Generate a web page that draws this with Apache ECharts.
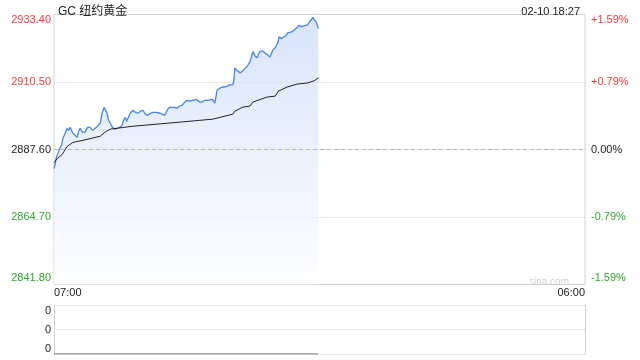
<!DOCTYPE html>
<html>
<head>
<meta charset="utf-8">
<script src="https://cdn.jsdelivr.net/npm/echarts@6/dist/echarts.min.js"></script>
<style>html,body{margin:0;padding:0;background:#fff;}#c{width:640px;height:360px;}</style>
</head>
<body>
<div id="c"></div>
<script>
// minutes after 07:00
const minutes = [0,3,6,10,16,20,23,28,34,38,42,46,49,55,60,64,68,74,81,87,94,100,107,113,120,125,130,133,138,142,146,150,153,158,164,170,177,181,185,189,192,198,205,212,218,225,231,238,244,250,257,265,276,282,288,295,301,310,320,326,333,340,346,354,361,370,379,385,392,400,405,412,418,421,424,428,431,438,444,450,457,462,465,467,470,474,478,484,489,493,496,503,509,513,517,522,528,532,535,541,548,555,561,565,569,575,580,583,585,590,595,602,608,613,619,625,632,636,639,643,647,654,660,663,665,669,673,678,682,684,687];
const prices = [2881.1,2882.5,2884.9,2886.2,2888.3,2889.0,2891.4,2892.8,2894.8,2894.1,2895.1,2894.5,2893.1,2892.4,2891.7,2893.8,2894.8,2893.5,2893.5,2895.1,2895.1,2894.1,2894.8,2895.5,2896.5,2899.9,2901.9,2901.2,2899.9,2897.5,2896.5,2895.5,2895.1,2894.5,2894.8,2895.1,2895.8,2897.5,2898.5,2897.2,2897.5,2899.9,2900.9,2900.2,2899.9,2900.6,2900.9,2899.5,2899.2,2899.9,2900.2,2900.2,2899.9,2899.5,2899.2,2901.2,2901.9,2901.9,2901.6,2902.3,2902.6,2903.7,2904.3,2904.0,2904.3,2904.6,2903.7,2903.7,2904.3,2904.3,2904.3,2904.6,2903.3,2903.0,2907.8,2908.4,2908.4,2908.8,2908.8,2909.1,2909.5,2909.8,2909.5,2910.5,2915.3,2914.6,2914.6,2913.6,2913.9,2914.6,2914.6,2916.0,2917.3,2919.0,2920.8,2919.4,2918.7,2920.1,2920.8,2921.1,2920.4,2919.7,2919.0,2920.1,2921.4,2922.1,2922.5,2924.2,2925.9,2925.2,2924.9,2926.2,2927.2,2926.6,2927.6,2928.2,2929.0,2929.7,2930.0,2929.3,2929.0,2929.7,2930.0,2930.7,2931.0,2931.7,2932.4,2931.4,2930.7,2930.7,2928.6];
const avgMinutes = [0,8,21,34,49,75,120,133,146,205,294,379,413,465,470,491,509,517,554,575,583,606,632,660,676,687];
const avgPrices = [2883.1,2884.5,2885.9,2888.6,2890.0,2890.7,2892.1,2893.5,2894.5,2895.5,2896.5,2897.5,2897.9,2899.6,2900.6,2902.0,2902.3,2903.7,2905.4,2905.7,2907.4,2908.8,2909.8,2910.2,2910.9,2911.9];
const volMinutes = [0, 687];
const volumes = [0, 0];
const prevClose = 2887.6;
const yTicks = [2841.8, 2864.7, 2887.6, 2910.5, 2933.4];
const xTickLabels = ['07:00', '06:00'];
const sessionMinutes = 1380;
const titleText = 'GC 纽约黄金';
const timeText = '02-10 18:27';

const RED = '#f23a3a', GREEN = '#2fa52f', BLACK = '#222';
const yInterval = +(yTicks[1] - yTicks[0]).toFixed(2);
const eq = (a, b) => Math.abs(a - b) < 1e-6;

function edgeKey(v, base) {
  if (eq(v, yTicks[yTicks.length - 1])) return base + 't';
  if (eq(v, yTicks[0])) return base + 'b';
  return base;
}
function colKey(v) {
  if (eq(v, prevClose)) return 'k';
  return v > prevClose ? 'r' : 'g';
}
const richSet = {};
[['r', RED], ['g', GREEN], ['k', BLACK]].forEach(([k, c]) => {
  richSet[k] = { color: c, fontSize: 11, fontFamily: 'Liberation Sans, Arial, sans-serif' };
  richSet[k + 't'] = { color: c, fontSize: 11, fontFamily: 'Liberation Sans, Arial, sans-serif', padding: [11, 0, 0, 0] };
  richSet[k + 'b'] = { color: c, fontSize: 11, fontFamily: 'Liberation Sans, Arial, sans-serif', padding: [0, 0, 13, 0] };
});

const chart = echarts.init(document.getElementById('c'), null, { renderer: 'canvas' });
chart.setOption({
  animation: false,
  backgroundColor: '#fff',
  title: [
    { text: titleText, left: 53, top: 1, textStyle: { fontSize: 12, fontWeight: 'normal', color: '#222', fontFamily: 'Liberation Sans, Noto Sans CJK SC, sans-serif' } },
    { text: timeText, right: 55, top: 1, textStyle: { fontSize: 11, fontWeight: 'normal', color: '#222', fontFamily: 'Liberation Sans, Arial, sans-serif' } },
    { text: 'sina.com', right: 66, top: 272, textStyle: { fontSize: 10, fontWeight: 'normal', color: '#d0d0d0', fontFamily: 'Liberation Sans, Arial, sans-serif' } }
  ],
  grid: [
    { left: 54, right: 55, top: 14.5, height: 270, show: true, borderColor: '#d2d2d2', borderWidth: 1, backgroundColor: 'transparent' },
    { left: 54, right: 55, top: 305, height: 49, show: false }
  ],
  xAxis: [
    { type: 'value', gridIndex: 0, min: 0, max: sessionMinutes, interval: sessionMinutes,
      axisLine: { show: false }, axisTick: { show: false }, splitLine: { show: false },
      axisLabel: { show: true, margin: 3, fontSize: 11, color: '#222', fontFamily: 'Liberation Sans, Arial, sans-serif',
        alignMinLabel: 'left', alignMaxLabel: 'right', showMinLabel: true, showMaxLabel: true,
        formatter: v => (eq(v, 0) ? xTickLabels[0] : xTickLabels[1]) } },
    { type: 'value', gridIndex: 1, min: 0, max: sessionMinutes,
      axisLine: { show: false }, axisTick: { show: false }, splitLine: { show: false }, axisLabel: { show: false } }
  ],
  yAxis: [
    { type: 'value', gridIndex: 0, position: 'left', min: yTicks[0], max: yTicks[yTicks.length - 1], interval: yInterval,
      axisLine: { show: false }, axisTick: { show: false },
      splitLine: { show: true, showMinLine: false, showMaxLine: false, lineStyle: { color: '#d4d4d4', type: 'dotted', width: 1 } },
      axisLabel: { margin: 3, showMinLabel: true, showMaxLabel: true, rich: richSet,
        formatter: v => '{' + edgeKey(v, colKey(v)) + '|' + v.toFixed(2) + '}' } },
    { type: 'value', gridIndex: 0, position: 'right', min: yTicks[0], max: yTicks[yTicks.length - 1], interval: yInterval,
      axisLine: { show: false }, axisTick: { show: false }, splitLine: { show: false },
      axisLabel: { margin: 6, showMinLabel: true, showMaxLabel: true, rich: richSet,
        formatter: v => {
          const p = (v - prevClose) / prevClose * 100;
          const s = (eq(v, prevClose) ? '' : (p > 0 ? '+' : '')) + (eq(v, prevClose) ? '0.00' : p.toFixed(2)) + '%';
          return '{' + edgeKey(v, colKey(v)) + '|' + s + '}';
        } } },
    { type: 'value', gridIndex: 1, position: 'left', min: 0, max: 1, interval: 0.5,
      axisLine: { show: true, lineStyle: { color: '#d2d2d2' } }, axisTick: { show: false },
      splitLine: { show: true, lineStyle: { color: '#d0d0d0', type: 'dotted' } },
      axisLabel: { margin: 3, showMinLabel: true, showMaxLabel: true,
        rich: { n: { color: '#222', fontSize: 11 }, nt: { color: '#222', fontSize: 11, padding: [11, 0, 0, 0] }, nb: { color: '#222', fontSize: 11, padding: [0, 0, 11, 0] } },
        formatter: v => (eq(v, 1) ? '{nt|0}' : eq(v, 0) ? '{nb|0}' : '{n|0}') } },
    { type: 'value', gridIndex: 1, position: 'right', min: 0, max: 1,
      axisLine: { show: true, lineStyle: { color: '#d2d2d2' } }, axisTick: { show: false },
      splitLine: { show: false }, axisLabel: { show: false } }
  ],
  series: [
    { type: 'line', name: 'price', xAxisIndex: 0, yAxisIndex: 0,
      data: minutes.map((m, i) => [m, prices[i]]),
      showSymbol: false, symbol: 'none', smooth: false,
      lineStyle: { color: '#4685ea', width: 1.3 },
      areaStyle: { origin: 'start', color: new echarts.graphic.LinearGradient(0, 0, 0, 1, [
        { offset: 0, color: '#c6d9f7' }, { offset: 0.5, color: '#e3ecfb' }, { offset: 1, color: '#fcfdff' }
      ]) },
      markLine: { silent: true, symbol: 'none', label: { show: false },
        lineStyle: { color: '#b8b8b8', type: [4, 3], width: 1 },
        data: [{ yAxis: prevClose }] } },
    { type: 'line', name: 'avg', xAxisIndex: 0, yAxisIndex: 0,
      data: avgMinutes.map((m, i) => [m, avgPrices[i]]),
      showSymbol: false, symbol: 'none', lineStyle: { color: '#222', width: 1 } },
    { type: 'line', name: 'vol', xAxisIndex: 1, yAxisIndex: 2,
      data: volMinutes.map((m, i) => [m, volumes[i]]),
      showSymbol: false, symbol: 'none', lineStyle: { color: '#555', width: 1 } }
  ]
});
</script>
</body>
</html>
